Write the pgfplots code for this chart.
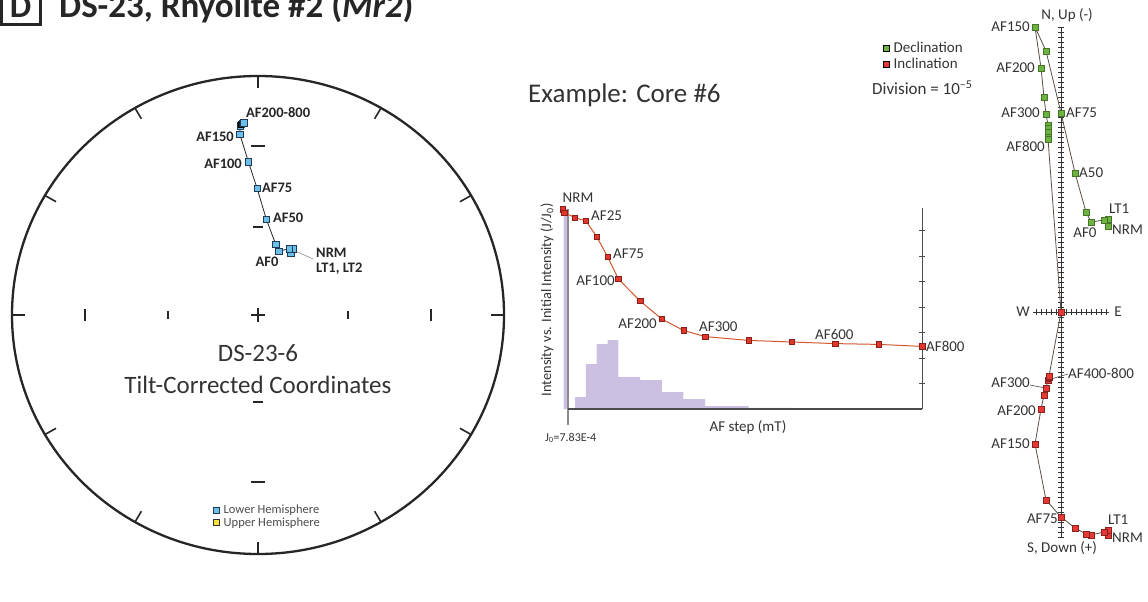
\documentclass[border=0pt]{standalone}
\usepackage{pgfplots}
\pgfplotsset{compat=1.18}
\usepackage{fontspec}
\setmainfont{Carlito}
\definecolor{stblue}{HTML}{6CC0E8}
\definecolor{stborder}{HTML}{1E3A56}
\definecolor{styellow}{HTML}{F4E33A}
\definecolor{lav}{HTML}{CBC0E2}
\definecolor{lineor}{HTML}{D2572F}
\definecolor{mkred}{HTML}{E2352B}
\definecolor{zline}{HTML}{5A4E46}
\definecolor{zgreen}{HTML}{6DB33F}
\definecolor{zred}{HTML}{E53935}
\definecolor{txt}{HTML}{333333}
\newcommand\fsz[1]{\fontsize{#1}{#1}\selectfont}
\begin{document}
\begin{tikzpicture}
\useasboundingbox (0pt,0pt) rectangle (1148pt,-602pt);

% ---------------- Title ----------------
\draw[line width=3pt, black!85] (1.5pt,12pt) rectangle (40pt,-24.5pt);
\node[anchor=base, inner sep=0pt, font=\bfseries\fsz{34}, text=black!85] at (20.5pt,-18pt) {D};
\node[anchor=base west, inner sep=0pt, font=\bfseries\fsz{35}, text=black!85] at (59pt,-18pt) {DS-23, Rhyolite \#2 (\textit{Mr2})};

% ---------------- Stereonet ----------------
\begin{axis}[at={(258pt,-315pt)}, anchor=center, x=246pt, y=239pt,
  xmin=-1.1, xmax=1.1, ymin=-1.1, ymax=1.1, axis lines=none, clip=false,
  legend style={at={(axis cs:-0.183,-0.842)}, anchor=west, draw=none, fill=none,
    font=\fsz{12.5}, text=black!70, inner sep=0pt, row sep=0.5pt, column sep=3.5pt,
    nodes={inner sep=1pt}},
  legend cell align=left]
\draw[line width=2.3pt, black!85] (axis cs:0,0) ellipse [x radius=246pt, y radius=239pt];
\pgfplotsinvokeforeach{0,30,...,330}{\draw[line width=1.6pt, black!85] (axis cs:{cos(#1)},{sin(#1)}) -- (axis cs:{0.948*cos(#1)},{0.948*sin(#1)});}
\pgfplotsinvokeforeach{-0.703,0.703}{\draw[line width=1.7pt, black!85] (axis cs:#1,-0.027) -- (axis cs:#1,0.027);}
\pgfplotsinvokeforeach{-0.366,0.366}{\draw[line width=1.7pt, black!85] (axis cs:#1,-0.017) -- (axis cs:#1,0.017);}
\pgfplotsinvokeforeach{-0.699,0.707}{\draw[line width=1.7pt, black!85] (axis cs:-0.028,#1) -- (axis cs:0.028,#1);}
\pgfplotsinvokeforeach{-0.364,0.368}{\draw[line width=1.7pt, black!85] (axis cs:-0.02,#1) -- (axis cs:0.02,#1);}
\draw[line width=2pt, black!85] (axis cs:-0.029,0) -- (axis cs:0.029,0);
\draw[line width=2pt, black!85] (axis cs:0,-0.03) -- (axis cs:0,0.03);
\draw[line width=0.6pt, black!45] (axis cs:0.157,0.265) -- (axis cs:0.225,0.234);
\addplot[forget plot, color=black!85, line width=0.8pt, mark=square*, mark size=3.2pt,
  mark options={fill=stblue, draw=stborder, line width=0.6pt}] coordinates {
  (0.134,0.258) (0.143,0.277) (0.126,0.277) (0.084,0.267) (0.072,0.296)
  (0.034,0.400) (-0.004,0.531) (-0.039,0.641) (-0.074,0.757)
  (-0.073,0.791) (-0.067,0.797) (-0.062,0.802) (-0.057,0.805)};
\addplot[forget plot, only marks, mark=square*, mark size=2.4pt,
  mark options={fill=black!85, draw=black}] coordinates {(-0.069,0.795)};
\addplot[forget plot, only marks, mark=square*, mark size=3.2pt,
  mark options={fill=stblue, draw=stborder, line width=0.6pt}] coordinates {(-0.057,0.805)};
\addlegendimage{only marks, mark=square*, mark size=3pt, mark options={fill=stblue, draw=stborder, line width=0.6pt}}
\addlegendentry{Lower Hemisphere}
\addlegendimage{only marks, mark=square*, mark size=3pt, mark options={fill=styellow, draw=black!80, line width=0.6pt}}
\addlegendentry{Upper Hemisphere}
\end{axis}

\begin{scope}[every node/.style={inner sep=0pt, font=\bfseries\fsz{14.5}, text=black!85}]
\node[anchor=west] at (246pt,-113pt) {AF200-800};
\node[anchor=east] at (234pt,-137pt) {AF150};
\node[anchor=east] at (242pt,-164pt) {AF100};
\node[anchor=west] at (262pt,-188pt) {AF75};
\node[anchor=west] at (273pt,-218pt) {AF50};
\node at (267pt,-262pt) {AF0};
\node[anchor=west] at (316pt,-252.5pt) {NRM};
\node[anchor=west] at (316pt,-268.5pt) {LT1, LT2};
\end{scope}
\node[inner sep=0pt, font=\fsz{25}, text=txt] at (258pt,-353pt) {DS-23-6};
\node[inner sep=0pt, font=\fsz{25}, text=txt] at (258pt,-385pt) {Tilt-Corrected Coordinates};

% ---------------- Intensity decay ----------------
\node[anchor=west, inner sep=0pt, font=\fsz{27}, text=txt] at (528pt,-95pt) {Example: Core \#6};
\begin{axis}[at={(568.06pt,-429pt)}, anchor=south west, x=0.4338pt, y=200pt,
  xmin=-16, xmax=800, ymin=-0.1, ymax=1.05, axis lines=none, clip=false]
\addplot[fill=lav, draw=none, const plot] coordinates {
  (0,0.06) (25,0.225) (50,0.325) (75,0.345) (100,0.16) (150,0.145) (200,0.085)
  (250,0.05) (300,0.015) (400,0.006) (500,0.003) (800,0.003)} \closedcycle;
\addplot[fill=lav, draw=none, const plot] coordinates {(-26,1.0) (-19,1.0)} \closedcycle;
\draw[color=black!45, line width=2.6pt] (axis cs:-16,1.0) -- (axis cs:-16,-0.08);
\draw[color=black!70, line width=1.3pt] (axis cs:-16,0) -- (axis cs:800,0);
\draw[color=black!70, line width=1.1pt] (axis cs:800,0) -- (axis cs:800,1.005);
\pgfplotsinvokeforeach{0.13,0.255,0.385,0.51,0.64,0.765,0.895}{\draw[black!70, line width=0.8pt] (axis cs:793,#1) -- (axis cs:807,#1);}
\addplot[color=lineor, line width=1pt, mark=square*, mark size=2.7pt,
  mark options={fill=mkred, draw=mkred!60!black, line width=0.5pt}] coordinates {
  (-28,0.998) (-25,0.982) (0,0.957) (25,0.94) (50,0.862) (75,0.762) (100,0.65)
  (150,0.54) (200,0.45) (250,0.393) (300,0.362) (400,0.343) (500,0.335)
  (600,0.327) (700,0.323) (800,0.313)};
\end{axis}
\begin{scope}[every node/.style={inner sep=0pt, font=\fsz{15}, text=txt}]
\node at (578pt,-198pt) {NRM};
\node[anchor=west] at (591pt,-216pt) {AF25};
\node[anchor=west] at (613pt,-254pt) {AF75};
\node[anchor=east] at (615pt,-281pt) {AF100};
\node[anchor=east] at (657pt,-324pt) {AF200};
\node[anchor=west] at (699pt,-327pt) {AF300};
\node[anchor=west] at (815pt,-334pt) {AF600};
\node[anchor=west] at (926pt,-346pt) {AF800};
\node at (748pt,-427pt) {AF step (mT)};
\end{scope}
\node[rotate=90, inner sep=0pt, font=\fsz{14.4}, text=txt] at (547pt,-300pt) {Intensity vs. Initial Intensity (J/J\textsubscript{0})};
\node[anchor=west, inner sep=0pt, font=\fsz{12}, text=txt] at (545pt,-438pt) {J\textsubscript{0}=7.83E-4};

% ---------------- Zijderveld ----------------
\begin{axis}[at={(1033pt,-538pt)}, anchor=south west, x=1pt, y=1pt,
  xmin=-28, xmax=48, ymin=-226, ymax=285,
  axis lines=middle, axis line style={-, black!80, line width=0.8pt},
  xtick={-25,-20,...,45}, ytick={-225,-220,...,285},
  xticklabels={}, yticklabels={},
  major tick length=6pt, tick align=center, tick style={black!80, line width=0.6pt},
  clip=false,
  legend style={at={(axis cs:-178,256)}, anchor=west, draw=none, fill=none,
    font=\fsz{15}, text=txt, inner sep=0pt, row sep=2pt, column sep=3.5pt,
    nodes={inner sep=1pt}},
  legend cell align=left]
\addplot[forget plot, color=zline, line width=0.8pt, mark=square*, mark size=2.8pt,
  mark options={fill=zgreen, draw=zgreen!65!black, line width=0.4pt}] coordinates {
  (47,86) (47,93) (43,92) (30,90) (25,100) (14,139) (0,199) (-15,261) (-26,285)
  (-20,244) (-17,215) (-15,198) (-13,187) (-13,184) (-13,180) (-13,175) (-13,173)};
\addplot[forget plot, color=zline, line width=0.8pt] coordinates {(-13,173) (0,0)};
\addplot[forget plot, color=zline, line width=0.8pt, mark=square*, mark size=2.8pt,
  mark options={fill=zred, draw=zred!60!black, line width=0.4pt}] coordinates {
  (47,-223) (47,-218) (43,-220) (30,-223) (25,-222) (14,-216) (0,-205) (-15,-188)
  (-26,-132) (-20,-97) (-17,-83) (-15,-76) (-13,-68) (-12.5,-66) (-12,-65)
  (-12,-64.5) (-12,-64) (0,0)};
\draw[line width=0.6pt, zline] (axis cs:-10,-67) -- (axis cs:7,-62);
\draw[line width=0.6pt, zline] (axis cs:-31,-73) -- (axis cs:-16,-76);
\addlegendimage{only marks, mark=square*, mark size=3pt, mark options={fill=zgreen, draw=none}}
\addlegendentry{Declination}
\addlegendimage{only marks, mark=square*, mark size=3pt, mark options={fill=zred, draw=none}}
\addlegendentry{Inclination}
\end{axis}
\node[anchor=west, inner sep=0pt, font=\fsz{17}, text=txt] at (872pt,-88pt) {Division = 10\textsuperscript{–5}};
\begin{scope}[every node/.style={inner sep=0pt, font=\fsz{15}, text=txt}]
\node at (1067pt,-15pt) {N, Up (-)};
\node[anchor=east] at (1030pt,-27pt) {AF150};
\node[anchor=east] at (1035pt,-68pt) {AF200};
\node[anchor=east] at (1040pt,-113pt) {AF300};
\node[anchor=west] at (1066pt,-113pt) {AF75};
\node[anchor=east] at (1045pt,-146pt) {AF800};
\node[anchor=west] at (1079pt,-173pt) {A50};
\node[anchor=west] at (1109pt,-209pt) {LT1};
\node at (1085pt,-233pt) {AF0};
\node[anchor=west] at (1112pt,-230pt) {NRM};
\node at (1023pt,-312pt) {W};
\node at (1118pt,-312pt) {E};
\node[anchor=west] at (1068pt,-373pt) {AF400-800};
\node[anchor=east] at (1030pt,-383pt) {AF300};
\node[anchor=east] at (1036pt,-411pt) {AF200};
\node[anchor=east] at (1030pt,-444pt) {AF150};
\node[anchor=east] at (1058pt,-519pt) {AF75};
\node[anchor=west] at (1108pt,-520pt) {LT1};
\node[anchor=west] at (1112pt,-538pt) {NRM};
\node at (1062pt,-548pt) {S, Down (+)};
\end{scope}
\end{tikzpicture}
\end{document}
